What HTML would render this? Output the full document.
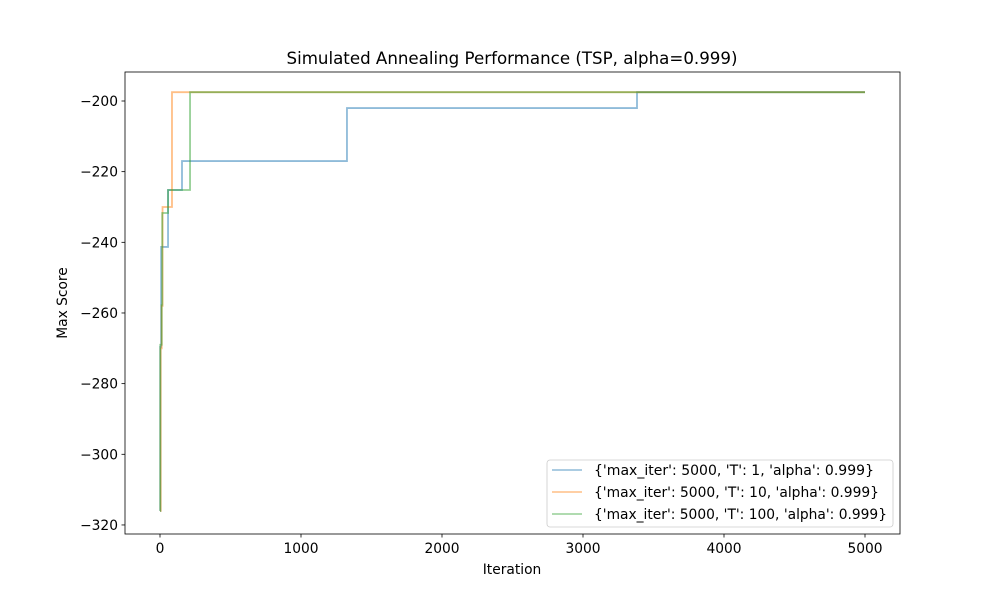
<!DOCTYPE html>
<html><head><meta charset="utf-8"><style>
body{margin:0;background:#fff;}
svg{display:block;font-family:"DejaVu Sans","Liberation Sans",sans-serif;}
</style></head><body>
<svg id="chart" width="1000" height="600" viewBox="0 0 1000 600">
<rect width="1000" height="600" fill="#fff"/>
<text x="512" y="64" font-size="16.4" text-anchor="middle" textLength="451" lengthAdjust="spacingAndGlyphs">Simulated Annealing Performance (TSP, alpha=0.999)</text>
<g id="series"></g>
<g id="axes"></g>
<rect x="125" y="72" width="775" height="462" fill="none" stroke="#000" stroke-width="0.8"/>
<text x="512" y="574" font-size="13.8" text-anchor="middle">Iteration</text>
<text x="0" y="0" font-size="13.8" text-anchor="middle" transform="translate(67,303) rotate(-90)">Max Score</text>
<g>
<rect x="547" y="460" width="346" height="67" rx="3" fill="#fff" fill-opacity="0.8" stroke="#ccc" stroke-width="0.8"/>
<line x1="552" y1="470" x2="582" y2="470" stroke="#1f77b4" stroke-opacity="0.5" stroke-width="1.5"/>
<text x="594" y="475" font-size="13.8" textLength="280" lengthAdjust="spacingAndGlyphs">{'max_iter': 5000, 'T': 1, 'alpha': 0.999}</text>
<line x1="552" y1="492" x2="582" y2="492" stroke="#ff7f0e" stroke-opacity="0.5" stroke-width="1.5"/>
<text x="594" y="497" font-size="13.8" textLength="285" lengthAdjust="spacingAndGlyphs">{'max_iter': 5000, 'T': 10, 'alpha': 0.999}</text>
<line x1="552" y1="514" x2="582" y2="514" stroke="#2ca02c" stroke-opacity="0.5" stroke-width="1.5"/>
<text x="594" y="519" font-size="13.8" textLength="293" lengthAdjust="spacingAndGlyphs">{'max_iter': 5000, 'T': 100, 'alpha': 0.999}</text>
</g>
</svg>
<script>
const xTicks = [0, 1000, 2000, 3000, 4000, 5000];
const yTicks = [-320, -300, -280, -260, -240, -220, -200];
// step-change iterations and values (step-post)
const t1Iters = [0, 2, 8, 57, 156, 1326, 3383, 5000];
const t1Vals = [-316, -269.6, -241.3, -225.2, -217, -202, -197.5, -197.5];
const t10Iters = [0, 5, 12, 18, 85, 5000];
const t10Vals = [-316, -270, -258, -230, -197.5, -197.5];
const t100Iters = [0, 2, 12, 16, 57, 213, 5000];
const t100Vals = [-316, -269, -257.7, -231.7, -225.2, -197.5, -197.5];

const NS = "http://www.w3.org/2000/svg";
const xs = v => 160 + (v / 1000) * 141;
const ys = v => 101 + (-200 - v) * 3.533;

const axes = document.getElementById('axes');
function mk(tag, attrs, parent) {
  const e = document.createElementNS(NS, tag);
  for (const k in attrs) e.setAttribute(k, attrs[k]);
  parent.appendChild(e);
  return e;
}
xTicks.forEach(t => {
  const l = mk('line', {x1: xs(t), x2: xs(t), y1: 534, y2: 537.5, stroke: '#000', 'stroke-width': 0.8}, axes);
  
  
  const tx = mk('text', {x: xs(t), y: 553, 'font-size': 13.8, 'text-anchor': 'middle'}, axes);
  tx.textContent = t;
  
  
});
yTicks.forEach(t => {
  const l = mk('line', {x1: 121.5, x2: 125, y1: ys(t), y2: ys(t), stroke: '#000', 'stroke-width': 0.8}, axes);
  
  
  const tx = mk('text', {x: 118, y: ys(t) + 5, 'font-size': 13.8, 'text-anchor': 'end'}, axes);
  tx.textContent = '\u2212' + Math.abs(t);
  
  
});
const series = document.getElementById('series');
function drawStep(iters, vals, color, name) {
  let d = 'M' + xs(iters[0]) + ' ' + ys(vals[0]);
  for (let i = 1; i < iters.length; i++) {
    d += ' H' + xs(iters[i]) + ' V' + ys(vals[i]);
  }
  const p = mk('path', {d: d, fill: 'none', stroke: color, 'stroke-opacity': 0.5, 'stroke-width': 1.8}, series);
  
  
}
drawStep(t1Iters, t1Vals, '#1f77b4', 'line-t1');
drawStep(t10Iters, t10Vals, '#ff7f0e', 'line-t10');
drawStep(t100Iters, t100Vals, '#2ca02c', 'line-t100');
</script>
</body></html>
